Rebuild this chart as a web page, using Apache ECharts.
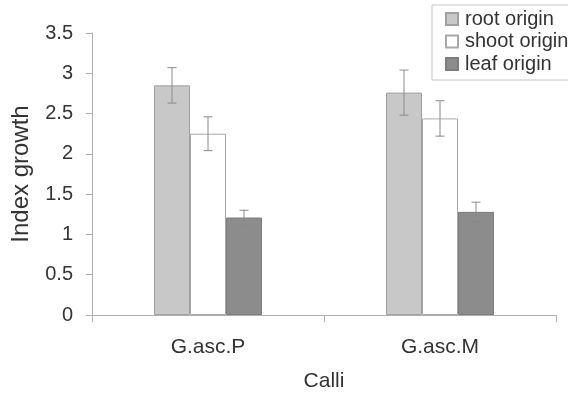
<!DOCTYPE html>
<html>
<head>
<meta charset="utf-8">
<script src="https://cdn.jsdelivr.net/npm/echarts@6/dist/echarts.min.js"></script>
<style>
  html, body { margin: 0; padding: 0; background: #fff; }
  #chart { width: 568px; height: 397px; }
</style>
</head>
<body>
<div id="chart"></div>
<script>
// Growth index of calli by explant origin
const categories = ['G.asc.P', 'G.asc.M'];
const seriesNames = ['root origin', 'shoot origin', 'leaf origin'];
const rootValues = [2.85, 2.76];
const shootValues = [2.25, 2.44];
const leafValues = [1.21, 1.28];
const rootErrors = [0.22, 0.28];
const shootErrors = [0.21, 0.22];
const leafErrors = [0.09, 0.12];
const yTicks = [0, 0.5, 1, 1.5, 2, 2.5, 3, 3.5];

const FONT = 'Liberation Sans, Arial, sans-serif';
const TEXT = '#333333';
const AXIS = '#b0b0b0';
const BAR_W = 36;

const fills = ['#c8c8c8', '#ffffff', '#8c8c8c'];
const borders = ['#a0a0a0', '#a8a8a8', '#7c7c7c'];
const values = [rootValues, shootValues, leafValues];
const errors = [rootErrors, shootErrors, leafErrors];

// Error bar series: one whisker per bar, offset to that bar's slot in the group
function errorSeries(idx) {
  const data = categories.map((c, i) => [i, values[idx][i] - errors[idx][i], values[idx][i] + errors[idx][i]]);
  return {
    type: 'custom',
    name: seriesNames[idx] + ' error',
    z: 5,
    silent: true,
    data: data,
    encode: { x: 0, y: [1, 2] },
    renderItem: function (params, api) {
      const xi = api.value(0);
      const lo = api.coord([xi, api.value(1)]);
      const hi = api.coord([xi, api.value(2)]);
      const x = lo[0] + (idx - 1) * BAR_W;
      const cap = 4.5;
      const style = { stroke: '#8a8a8a', lineWidth: 1 };
      return {
        type: 'group',
        children: [
          { type: 'line', shape: { x1: x, y1: hi[1], x2: x, y2: lo[1] }, style: style },
          { type: 'line', shape: { x1: x - cap, y1: hi[1], x2: x + cap, y2: hi[1] }, style: style },
          { type: 'line', shape: { x1: x - cap, y1: lo[1], x2: x + cap, y2: lo[1] }, style: style }
        ]
      };
    }
  };
}

const barSeries = seriesNames.map((name, idx) => ({
  type: 'bar',
  name: name,
  data: values[idx],
  barWidth: BAR_W,
  barGap: '0%',
  itemStyle: { color: fills[idx], borderColor: borders[idx], borderWidth: 1 }
}));

const chart = echarts.init(document.getElementById('chart'), null, { renderer: 'canvas' });
chart.setOption({
  animation: false,
  backgroundColor: '#ffffff',
  grid: { left: 92, right: 12, top: 33, bottom: 82, containLabel: false },
  legend: {
    data: seriesNames,
    orient: 'vertical',
    left: 432,
    top: 5,
    padding: [3, 14, 5, 13],
    itemWidth: 12,
    itemHeight: 12,
    itemGap: 0.5,
    borderColor: '#c4c4c4',
    borderWidth: 1,
    icon: 'rect',
    textStyle: { fontFamily: FONT, fontSize: 20, color: TEXT, lineHeight: 22, padding: [0, 0, 0, 2] }
  },
  xAxis: {
    type: 'category',
    data: categories,
    name: 'Calli',
    nameLocation: 'middle',
    nameGap: 56,
    nameTextStyle: { fontFamily: FONT, fontSize: 21, color: TEXT },
    axisLine: { lineStyle: { color: AXIS, width: 1 } },
    axisTick: { show: true, length: 7, lineStyle: { color: AXIS } },
    axisLabel: { fontFamily: FONT, fontSize: 21, color: TEXT, margin: 22 },
    splitLine: { show: false }
  },
  yAxis: {
    type: 'value',
    min: 0,
    max: 3.5,
    interval: 0.5,
    name: 'Index growth',
    nameLocation: 'middle',
    nameGap: 59,
    nameTextStyle: { fontFamily: FONT, fontSize: 24, color: TEXT },
    axisLine: { show: true, lineStyle: { color: AXIS, width: 1 } },
    axisTick: { show: true, length: 6, lineStyle: { color: AXIS } },
    axisLabel: {
      fontFamily: FONT, fontSize: 20, color: TEXT, margin: 19,
      formatter: v => String(yTicks.find(t => Math.abs(t - v) < 1e-9) ?? v)
    },
    splitLine: { show: false }
  },
  series: barSeries.concat([0, 1, 2].map(errorSeries))
});
</script>
</body>
</html>
